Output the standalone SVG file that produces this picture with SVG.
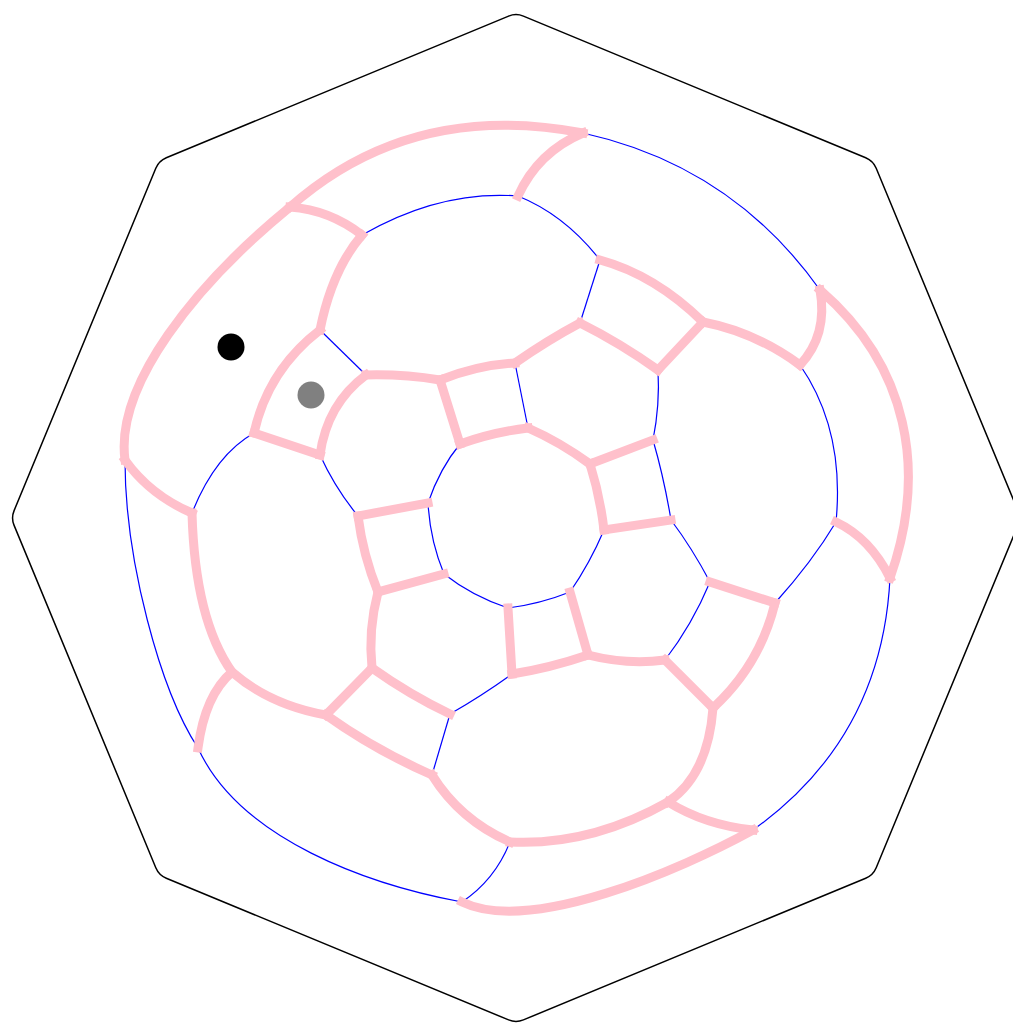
<svg xmlns="http://www.w3.org/2000/svg" width="1013" height="1023" viewBox="0 0 1013 1023">
<style>
.b{fill:none;stroke:#0000ff;stroke-width:1.2}
.p{fill:none;stroke:#ffc0cb;stroke-width:9;stroke-linecap:square;stroke-linejoin:round}
.frame{fill:none;stroke:#000;stroke-width:1.5}
</style>
<rect width="1013" height="1023" fill="#fff"/>
<g id="frame">
<path class="frame" d="M523.4,16.1 L865.7,157.8 Q873.1,160.9 876.2,168.3 L1017.9,510.6 Q1021,518 1017.9,525.4 L876.2,867.7 Q873.1,875.1 865.7,878.2 L523.4,1019.9 Q516,1023 508.6,1019.9 L166.3,878.2 Q158.9,875.1 155.8,867.7 L14.1,525.4 Q11,518 14.1,510.6 L155.8,168.3 Q158.9,160.9 166.3,157.8 L508.6,16.1 Q516,13 523.4,16.1 Z"/>
</g>
<g id="connectors">
<g id="blue-edges">
<path class="b" d="M583,133 Q732,166 820,290"/>
<path class="b" d="M890,578 Q882,738 753,830"/>
<path class="b" d="M462,902 C370,885 240,840 198,748"/>
<path class="b" d="M198,748 C160,690 125,560 125,460"/>
<path class="b" d="M462,902 Q495,880 510,842"/>
<path class="b" d="M362,235 Q440,190 518,196"/>
<path class="b" d="M518,196 Q565,215 600,260"/>
<path class="b" d="M800,365 Q845,430 836,522"/>
<path class="b" d="M836,522 Q812,562 775,603"/>
<path class="b" d="M192,513 Q215,455 254,433"/>
<path class="b" d="M600,260 L580,323"/>
<path class="b" d="M432,775 L450,714"/>
<path class="b" d="M320,330 L366,375"/>
<path class="b" d="M658,370 Q660,405 653,440"/>
<path class="b" d="M653,440 Q664,478 671,520"/>
<path class="b" d="M671,520 Q692,548 710,582"/>
<path class="b" d="M710,582 Q692,625 665,660"/>
<path class="b" d="M512,674 Q483,695 450,714"/>
<path class="b" d="M358,516 Q335,488 320,455"/>
<path class="b" d="M528,428 L515,363"/>
<path class="b" d="M604,530 Q590,563 570,592"/>
<path class="b" d="M570,592 Q540,604 508,608"/>
<path class="b" d="M508,608 Q472,596 444,574"/>
<path class="b" d="M444,574 Q430,540 428,503"/>
<path class="b" d="M428,503 Q440,468 460,444"/>
</g>
<g id="pink-edges">
<path class="p" d="M290,207 Q411,100 583,133"/>
<path class="p" d="M820,290 C908,366 928,470 890,578"/>
<path class="p" d="M753,830 C680,870 530,935 462,902"/>
<path class="p" d="M125,460 C115,385 195,285 290,207"/>
<path class="p" d="M583,133 Q538,152 518,196"/>
<path class="p" d="M820,290 Q828,335 800,365"/>
<path class="p" d="M890,578 Q870,538 836,522"/>
<path class="p" d="M753,830 Q705,825 668,802"/>
<path class="p" d="M198,748 Q205,695 232,672"/>
<path class="p" d="M125,460 Q150,495 192,513"/>
<path class="p" d="M290,207 Q330,210 362,235"/>
<path class="p" d="M600,260 Q655,275 703,322"/>
<path class="p" d="M703,322 Q755,332 800,365"/>
<path class="p" d="M775,603 Q760,665 713,708"/>
<path class="p" d="M713,708 Q708,775 668,802"/>
<path class="p" d="M668,802 Q590,846 510,842"/>
<path class="p" d="M510,842 Q460,820 432,775"/>
<path class="p" d="M432,775 Q375,750 326,715"/>
<path class="p" d="M326,715 Q270,705 232,672"/>
<path class="p" d="M232,672 Q195,620 192,513"/>
<path class="p" d="M254,433 Q268,370 320,330"/>
<path class="p" d="M320,330 Q332,270 362,235"/>
<path class="p" d="M703,322 L658,370"/>
<path class="p" d="M775,603 L710,582"/>
<path class="p" d="M713,708 L665,660"/>
<path class="p" d="M326,715 L372,668"/>
<path class="p" d="M254,433 L320,455"/>
<path class="p" d="M366,375 Q403,374 440,380"/>
<path class="p" d="M440,380 Q478,365 515,363"/>
<path class="p" d="M515,363 Q548,340 580,323"/>
<path class="p" d="M580,323 Q620,343 658,370"/>
<path class="p" d="M665,660 Q627,665 588,655"/>
<path class="p" d="M588,655 Q550,668 512,674"/>
<path class="p" d="M450,714 Q410,695 372,668"/>
<path class="p" d="M372,668 Q368,630 378,592"/>
<path class="p" d="M378,592 Q363,555 358,516"/>
<path class="p" d="M320,455 Q327,404 366,375"/>
<path class="p" d="M460,444 L440,380"/>
<path class="p" d="M590,464 L653,440"/>
<path class="p" d="M604,530 L671,520"/>
<path class="p" d="M570,592 L588,655"/>
<path class="p" d="M508,608 L512,674"/>
<path class="p" d="M444,574 L378,592"/>
<path class="p" d="M428,503 L358,516"/>
<path class="p" d="M460,444 Q494,432 528,428"/>
<path class="p" d="M528,428 Q560,442 590,464"/>
<path class="p" d="M590,464 Q600,496 604,530"/>
</g>
</g>
<g id="node-black"><circle cx="231" cy="347" r="13.5" fill="#000"/></g>
<g id="node-gray"><circle cx="311" cy="395" r="13.5" fill="#808080"/></g>
</svg>
